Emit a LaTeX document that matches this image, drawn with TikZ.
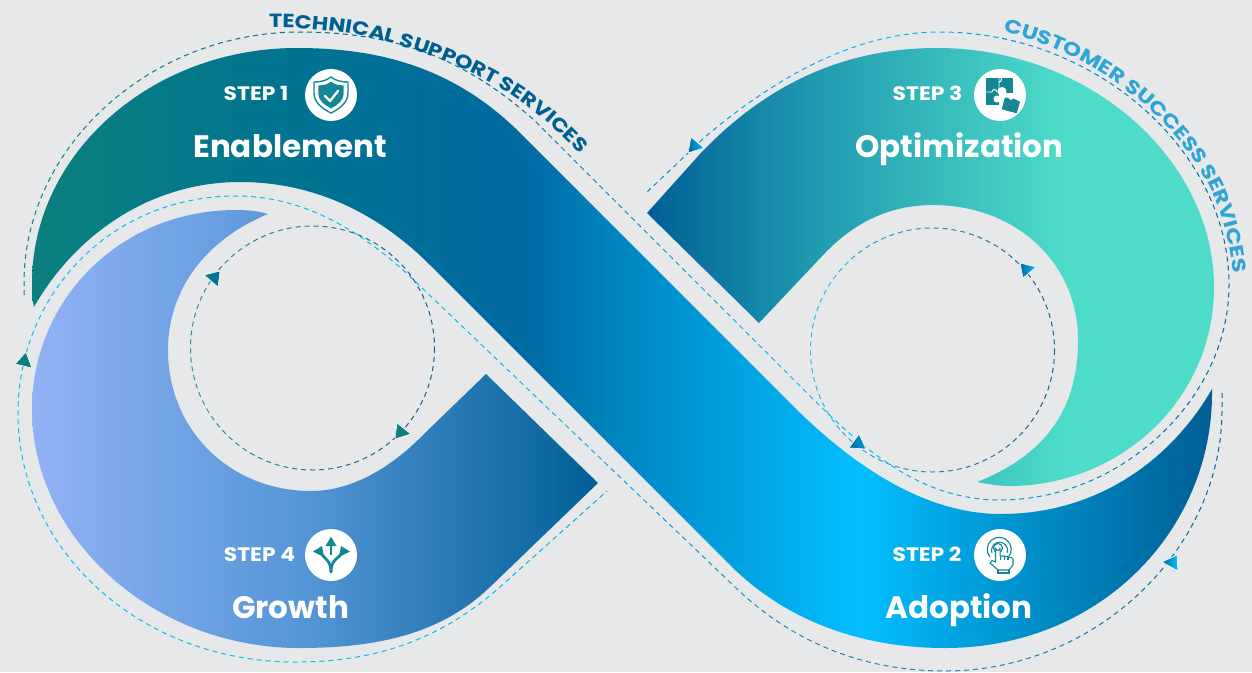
\documentclass[tikz,border=0pt]{standalone}
\usepackage{fontspec}
\setmainfont{Poppins}
\usetikzlibrary{decorations.text}
\definecolor{bgc}{RGB}{230,232,234}
\definecolor{aA}{RGB}{11,128,125}
\definecolor{aB}{RGB}{0,115,145}
\definecolor{aC}{RGB}{0,105,160}
\definecolor{aD}{RGB}{0,135,195}
\definecolor{aE}{RGB}{3,190,255}
\definecolor{aF}{RGB}{0,150,210}
\definecolor{aG}{RGB}{0,95,150}
\definecolor{oB}{RGB}{30,150,175}
\definecolor{oC}{RGB}{78,220,200}
\definecolor{gA}{RGB}{145,178,245}
\definecolor{gB}{RGB}{85,150,215}
\definecolor{techc}{RGB}{0,95,145}
\definecolor{custc}{RGB}{45,165,215}
\definecolor{iconc}{RGB}{20,135,150}
\definecolor{dA}{RGB}{0,190,245}
\definecolor{dB}{RGB}{30,130,190}
\definecolor{dC}{RGB}{0,100,150}
\definecolor{dT}{RGB}{50,150,150}
\definecolor{dN}{RGB}{20,90,130}
\definecolor{dL}{RGB}{50,190,240}
\pgfdeclarehorizontalshading{bandone}{100bp}{color(0bp)=(aA);color(25bp)=(aA);color(36.3bp)=(aB);color(45.6bp)=(aC);color(50.1bp)=(aD);color(60bp)=(aE);color(66bp)=(aF);color(73.1bp)=(aC);color(75bp)=(aG);color(100bp)=(aG)}
\pgfdeclarehorizontalshading{bandtwo}{100bp}{color(0bp)=(aG);color(25bp)=(aG);color(38.5bp)=(oB);color(62bp)=(oC);color(100bp)=(oC)}
\pgfdeclarehorizontalshading{bandfour}{100bp}{color(0bp)=(gA);color(25bp)=(gA);color(48.7bp)=(gB);color(75bp)=(aG);color(100bp)=(aG)}
\newfontfamily\popf{Poppins}
\newfontfamily\popw[FakeStretch=1.12]{Poppins}
\newfontfamily\popx[FakeStretch=1.18]{Poppins}
\newfontfamily\popy[FakeStretch=1.22]{Poppins}
\newcommand{\bandfill}[4]{\begin{scope}\clip #1;\shade[shading=#2] (#3,0) rectangle (#4,672);\end{scope}}
\newcommand{\gradstroke}[2]{%
 \foreach \xa/\ca/\xb/\cb in {#2}{%
  \foreach \i in {0,...,7}{%
   \pgfmathsetmacro\sx{\xa+(\xb-\xa)*\i/8}%
   \pgfmathsetmacro\ex{\xa+(\xb-\xa)*(\i+1)/8}%
   \pgfmathtruncatemacro\pct{100-100*(\i+.5)/8}%
   \begin{scope}\clip (\sx,-5) rectangle (\ex,680);
    \draw[dashline,color=\ca!\pct!\cb] #1;
   \end{scope}%
  }}}
\tikzset{
 dashline/.style={line width=1pt,dash pattern=on 5pt off 4pt},
 stepnode/.style={text=white,font=\popw\fontsize{19.5}{19.5}\selectfont\bfseries,inner sep=0pt,anchor=base},
 titlenode/.style={text=white,font=\popf\fontsize{31}{31}\selectfont\bfseries,inner sep=0pt,anchor=base},
 disc/.style={circle,fill=white,minimum size=52pt,inner sep=0pt},
 tri/.style={draw=white,line width=.6pt},
 icl/.style={draw=iconc,line width=1.1pt},
}
\def\pathA{(34,307) .. controls (32,300) and (32,292) .. (32,283) .. controls (32,154) and (151,48) .. (297,48) .. controls (380,48) and (452,68) .. (515,128) -- (790,403) .. controls (840,453) and (915,514) .. (1001,514) .. controls (1095,514) and (1170,462) .. (1212,389) .. controls (1214,530) and (1100,648) .. (945,648) .. controls (860,648) and (785,620) .. (730,565) -- (430,265) .. controls (375,210) and (310,182) .. (240,182) .. controls (150,182) and (75,235) .. (34,307) -- cycle}
\def\pathO{(647,213) -- (700,154) .. controls (770,80) and (850,48) .. (937,48) .. controls (1090,48) and (1214,160) .. (1214,287) .. controls (1214,400) and (1120,486) .. (1009,486) .. controls (998,486) and (988,484) .. (977,482) .. controls (1045,455) and (1078,410) .. (1078,340) .. controls (1078,262) and (1015,205) .. (933,205) .. controls (890,205) and (855,222) .. (825,253) -- (759,323) -- cycle}
\def\pathG{(268,214) .. controls (258,211) and (247,210) .. (236,210) .. controls (120,210) and (32,300) .. (32,409) .. controls (32,540) and (155,648) .. (299,648) .. controls (375,648) and (440,635) .. (490,587) -- (598,483) -- (486,374) -- (425,433) .. controls (395,464) and (355,491) .. (311,491) .. controls (230,491) and (168,430) .. (168,350) .. controls (168,290) and (205,240) .. (268,214) -- cycle}
\def\dashA{(24,295) -- (24,283) .. controls (24,147) and (150,32) .. (300,32) .. controls (395,32) and (465,58) .. (535,121) -- (790,376) .. controls (850,436) and (910,500) .. (1000,500) .. controls (1120,500) and (1229,400) .. (1229,285) .. controls (1229,150) and (1095,32) .. (940,32) .. controls (855,32) and (775,78) .. (705,137) -- (647,192)}
\def\dashB{(1222,393) -- (1222,410) .. controls (1222,550) and (1095,671) .. (945,671) .. controls (860,671) and (790,640) .. (735,587) -- (420,286) .. controls (365,232) and (305,196) .. (236,196) .. controls (110,196) and (18,295) .. (18,413) .. controls (18,550) and (140,662) .. (295,662) .. controls (375,662) and (440,640) .. (500,587) -- (607,491)}
\begin{document}
\begin{tikzpicture}[x=1pt,y=-1pt]
\useasboundingbox (0,0) rectangle (1252,672);
\fill[bgc] (0,0) rectangle (1252,672);
\bandfill{\pathO}{bandtwo}{647}{1214}
\bandfill{\pathG}{bandfour}{32}{598}
\bandfill{\pathA}{bandone}{32}{1214}
% dashed loops
\gradstroke{\dashA}{18/aA/520/aC,520/aC/860/aE,860/aE/1235/dC}
\gradstroke{\dashB}{10/dA/480/dA,480/dA/800/dB,800/dB/1000/dB,1000/dB/1230/dC}
\gradstroke{(312.5,348) circle[radius=122]}{185/dT/440/dN}
\gradstroke{(932.5,350) circle[radius=122]}{805/dL/1060/dN}
% arrowheads
\shade[tri,left color=aA,right color=aC] (204,275) -- (220,271) -- (218,287) -- cycle;
\shade[tri,left color=aA,right color=aA] (397,423) -- (411,434) -- (395,439) -- cycle;
\shade[tri,left color=aA,right color=aA!70!aC] (26,352) -- (32,368) -- (15,364) -- cycle;
\shade[tri,left color=aC,right color=aE] (691,137) -- (704,148) -- (688,153) -- cycle;
\shade[tri,left color=aC,right color=aE] (1020,263) -- (1036,267) -- (1023,278) -- cycle;
\shade[tri,left color=aC,right color=aE!60!aC] (859,434) -- (866,449) -- (849,448) -- cycle;
\shade[tri,left color=aC,right color=aE] (1177,555) -- (1178,571) -- (1162,562) -- cycle;
% curved labels
\path[decorate,decoration={text along path,text align=left,text={|\popx\bfseries\fontsize{19}{19}\selectfont\color{techc}|TECHNICAL SUPPORT SERVICES}}]
 (269,28) .. controls (350,26) and (430,48) .. (500,88) .. controls (533,107) and (560,132) .. (615,190);
\path[decorate,decoration={text along path,text align=left,text={|\popy\bfseries\fontsize{19}{19}\selectfont\color{custc}|CUSTOMER SUCCESS SERVICES}}]
 (1003,32) .. controls (1080,50) and (1160,100) .. (1205,178) .. controls (1222,208) and (1232,240) .. (1238,320);
% step labels
\node[stepnode] (s1) at (256,100) {STEP 1};
\node[stepnode] (s3) at (927.5,100) {STEP 3};
\node[stepnode] (s4) at (259.5,561) {STEP 4};
\node[stepnode] (s2) at (927,561) {STEP 2};
\node[titlenode] (t1) at (290,157) {Enablement};
\node[titlenode] (t3) at (959.5,157) {Optimization};
\node[titlenode] (t4) at (290.5,618) {Growth};
\node[titlenode] (t2) at (959,618) {Adoption};
\node[disc] (d1) at (331,95) {};
\node[disc] (d3) at (1000,95) {};
\node[disc] (d4) at (331,555) {};
\node[disc] (d2) at (1000,555) {};
% shield icon
\begin{scope}[shift={(331,95)}]
 \draw[icl,line width=1.4pt,line join=round] (0,-18) .. controls (5,-14) and (11,-13) .. (17,-13) -- (17,-2) .. controls (17,8) and (8,14) .. (0,18) .. controls (-8,14) and (-17,8) .. (-17,-2) -- (-17,-13) .. controls (-11,-13) and (-5,-14) .. (0,-18) -- cycle;
 \fill[iconc,scale=.74] (0,-18) .. controls (5,-14) and (11,-13) .. (17,-13) -- (17,-2) .. controls (17,8) and (8,14) .. (0,18) .. controls (-8,14) and (-17,8) .. (-17,-2) -- (-17,-13) .. controls (-11,-13) and (-5,-14) .. (0,-18) -- cycle;
 \draw[white,line width=2.4pt,line cap=round,line join=round] (-6,1) -- (-1,6) -- (7,-4);
\end{scope}
% puzzle icon
\begin{scope}[shift={(1000,95)}]
 \fill[iconc] (-14,-17) rectangle (13,10);
 \draw[white,line width=.9pt] (-1,-17) -- (-1,-13) arc[start angle=90,end angle=-90,radius=2.5] -- (-1,-3);
 \draw[white,line width=.9pt] (-14,-3) -- (-8,-3) arc[start angle=180,end angle=360,radius=2.5] -- (-1,-3);
 \fill[white] (-1,-2) rectangle (14,11);
 \fill[white] (2,-3.5) circle[radius=4.5];
 \fill[white] (-3,4) circle[radius=3.5];
 \fill[iconc] (5,2.3) -- (9,3.5) arc[start angle=160,end angle=20,radius=2.2] -- (20,6.7) -- (16.7,18.3) -- (1.7,14.3) -- cycle;
\end{scope}
% arrows icon
\begin{scope}[shift={(331,555)}]
 \draw[iconc,line width=2.8pt,line cap=round] (0,17) .. controls (0,9) and (-3,6) .. (-5,4) .. controls (-7,2) and (-8,1) .. (-10,-2);
 \draw[iconc,line width=2.8pt,line cap=round] (0,17) .. controls (0,9) and (3,6) .. (5,4) .. controls (7,2) and (9,1) .. (11,-2);
 \draw[iconc,line width=2.6pt] (0,0) -- (0,-11);
 \fill[iconc] (0,-18.5) -- (5.5,-9) -- (-5.5,-9) -- cycle;
 \fill[iconc] (-18,-3.5) -- (-9,-9) -- (-7,2) -- cycle;
 \fill[iconc] (19,-3.5) -- (10,-9) -- (8,2) -- cycle;
\end{scope}
% hand icon
\begin{scope}[shift={(1000,555)}]
 \draw[icl] (-10,2) arc[start angle=140,end angle=400,radius=12];
 \draw[icl] (-8,-2) arc[start angle=160,end angle=380,radius=8] ;
 \draw[icl] (-2,-7) circle[radius=4.5];
 \draw[icl,fill=white,line join=round] (-4.5,7) -- (-4.5,-7) arc[start angle=180,end angle=0,radius=2.3] -- (0.1,1) -- (4.5,1) -- (4.5,1.8) -- (8,1.5) -- (8,2.5) -- (11,2.3) -- (13,4) -- (13,10) -- (9,15) -- (-2,15) -- (-10,8) -- (-8,5.5) -- cycle;
 \draw[icl] (0.1,1) -- (.1,5) (4.5,1.5) -- (4.5,5) (8,2) -- (8,5);
 \draw[icl] (-2,15) -- (-2,18) -- (9,18) -- (9,15);
\end{scope}
\end{tikzpicture}
\end{document}
